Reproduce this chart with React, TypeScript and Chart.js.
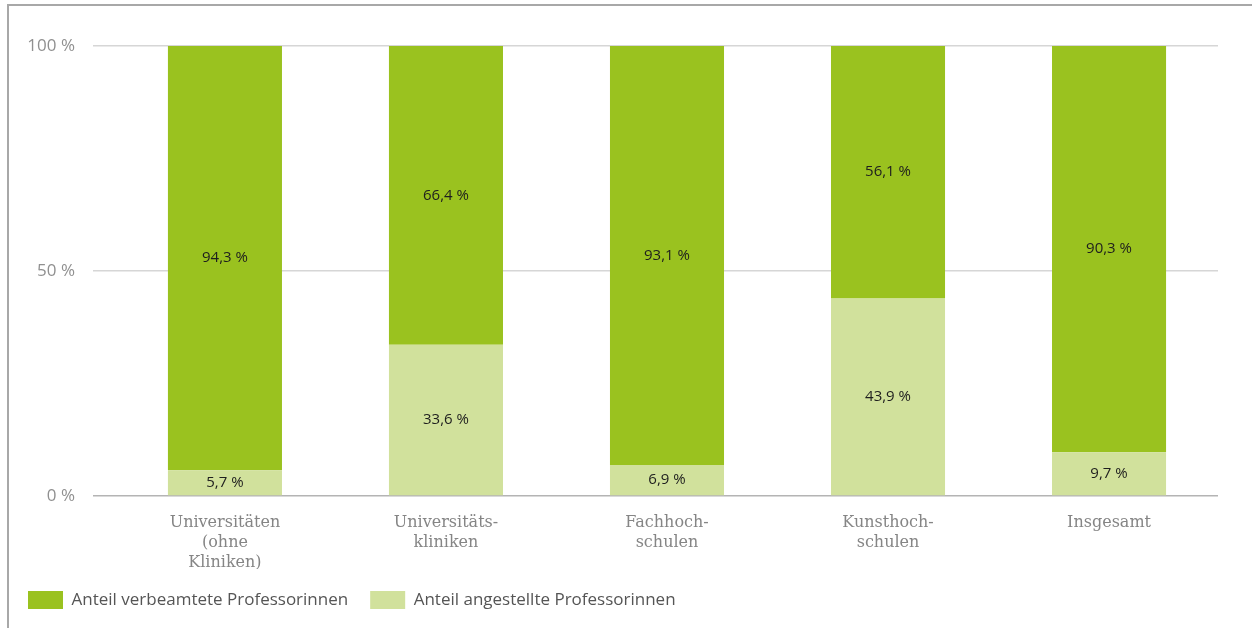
import React, { useEffect, useRef } from "react";
import { Chart, registerables } from "chart.js";

Chart.register(...registerables);

const categories: string[][] = [
  ["Universitäten", "(ohne", "Kliniken)"],
  ["Universitäts-", "kliniken"],
  ["Fachhoch-", "schulen"],
  ["Kunsthoch-", "schulen"],
  ["Insgesamt"],
];
const angestellteValues = [5.7, 33.6, 6.9, 43.9, 9.7];
const verbeamteteValues = [94.3, 66.4, 93.1, 56.1, 90.3];
const yTickValues = [0, 50, 100];
const seriesLabels = ["Anteil angestellte Professorinnen", "Anteil verbeamtete Professorinnen"];

const fmt = (v: number) => v.toFixed(1).replace(".", ",") + " %";

const valueLabelPlugin = {
  id: "valueLabels",
  afterDatasetsDraw(chart: any) {
    const ctx = chart.ctx;
    ctx.save();
    ctx.font = "15px 'Open Sans', sans-serif";
    ctx.fillStyle = "#1e1e1e";
    ctx.textAlign = "center";
    ctx.textBaseline = "middle";
    chart.data.datasets.forEach((ds: any, di: number) => {
      const meta = chart.getDatasetMeta(di);
      meta.data.forEach((el: any, i: number) => {
        const v = ds.data[i].y;
        const yc = (el.y + el.base) / 2;
        ctx.fillText(fmt(v), el.x, yc);
      });
    });
    ctx.restore();
  },
};

export default function App() {
  const ref = useRef<HTMLCanvasElement>(null);
  useEffect(() => {
    if (!ref.current) return;
    const toPoints = (arr: number[]) => arr.map((v, i) => ({ x: i, y: v }));
    const chart = new Chart(ref.current, {
      type: "bar",
      data: {
        datasets: [
          {
            label: seriesLabels[0],
            data: toPoints(angestellteValues),
            backgroundColor: "#d1e19c",
            borderWidth: 0,
            barPercentage: 0.516,
            categoryPercentage: 1,
          },
          {
            label: seriesLabels[1],
            data: toPoints(verbeamteteValues),
            backgroundColor: "#9ac21f",
            borderWidth: 0,
            barPercentage: 0.516,
            categoryPercentage: 1,
          },
        ],
      },
      options: {
        responsive: false,
        animation: false,
        devicePixelRatio: 1,
        layout: { padding: { left: 6, right: 34, top: 46, bottom: 9 } },
        plugins: {
          tooltip: { enabled: false },
          legend: {
            position: "bottom",
            align: "start",
            reverse: true,
            labels: {
              boxWidth: 35,
              boxHeight: 18,
              padding: 22,
              color: "#555555",
              font: { family: "'Open Sans', sans-serif", size: 17 },
            },
          },
        },
        scales: {
          x: {
            type: "linear",
            stacked: true,
            offset: false,
            min: -0.597,
            max: 4.493,
            grid: { display: false },
            border: { display: false },
            afterBuildTicks: (s: any) => {
              s.ticks = categories.map((_, i) => ({ value: i }));
            },
            ticks: {
              color: "#858585",
              padding: 9,
              maxRotation: 0,
              autoSkip: false,
              font: { family: "'DejaVu Serif', serif", size: 16, lineHeight: 1.25 },
              callback: (v: any) => categories[Math.round(v)] || "",
            },
            afterFit: (s: any) => {
              s.height = 73;
            },
          },
          y: {
            stacked: true,
            min: 0,
            max: 100,
            border: { display: false },
            afterBuildTicks: (s: any) => {
              s.ticks = yTickValues.map((v) => ({ value: v }));
            },
            ticks: {
              color: "#909090",
              padding: 18,
              font: { family: "'Open Sans', sans-serif", size: 17 },
              callback: (v: any) => v + " %",
            },
            grid: {
              drawTicks: false,
              lineWidth: 1.5,
              color: (c: any) => (c.tick && c.tick.value === 0 ? "#b4b4b4" : "#d6d6d6"),
            },
            afterFit: (s: any) => {
              s.width = 87;
            },
          },
        },
      },
      plugins: [valueLabelPlugin],
    } as any);
    return () => chart.destroy();
  }, []);

  return (
    <div style={{ position: "absolute", left: 0, top: 0, width: 1252, height: 628, background: "#fff" }}>
      <canvas ref={ref} width={1252} height={628} style={{ position: "absolute", left: 0, top: 0, width: 1252, height: 628 }} />
      <div style={{ position: "absolute", left: 7, top: 4, width: 1245, height: 2, background: "#a8a8a8" }} />
      <div style={{ position: "absolute", left: 7, top: 4, width: 2, height: 624, background: "#a8a8a8" }} />
    </div>
  );
}
